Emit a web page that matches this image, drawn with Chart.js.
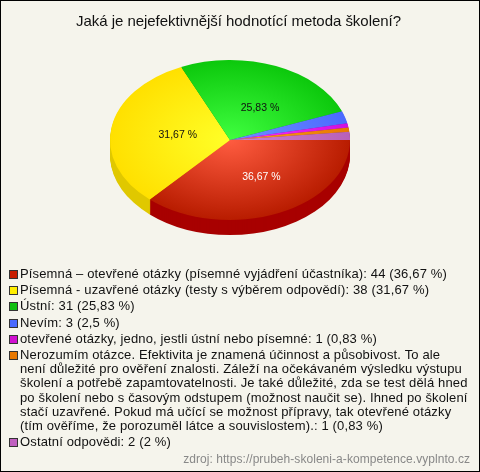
<!DOCTYPE html>
<html>
<head>
<meta charset="utf-8">
<script src="https://cdn.jsdelivr.net/npm/chart.js@4"></script>
<style>
  html, body { margin: 0; padding: 0; background: #f5f4ec; }
  #box { position: relative; width: 478px; height: 470px; border: 1px solid #000; background: #f5f4ec; overflow: hidden; font-family: "Liberation Sans", Arial, sans-serif; color: #111; }
  #myChart { position: absolute; left: -1px; top: -1px; }
  #titulek { position: absolute; left: 0; top: 11px; width: 475px; text-align: center; font-size: 15px; line-height: 17px; letter-spacing: -.04px; }
  #legenda { position: absolute; left: 19px; top: 266.3px; width: 452px; font-size: 13px; line-height: 14.3px; letter-spacing: .145px; }
  #legenda div { position: relative; margin-bottom: 1.8px; }
  #legenda i { position: absolute; left: -11px; top: 3px; width: 7px; height: 7px; border: 1px solid #333; }
  #zdroj { position: absolute; right: 9px; top: 451px; font-size: 12px; line-height: 14px; letter-spacing: .05px; color: #888; }
</style>
</head>
<body>
<div id="box">
  <canvas id="myChart" width="480" height="472"></canvas>
  <div id="titulek"></div>
  <div id="legenda"></div>
  <div id="zdroj"></div>
</div>
<script>
const titulek = 'Jaká je nejefektivnější hodnotící metoda školení?';
const zdroj = 'zdroj: https://prubeh-skoleni-a-kompetence.vyplnto.cz';
// nbsp after "není" keeps the line break where the original has it
const kategorie = [
  'Písemná – otevřené otázky (písemné vyjádření účastníka)',
  'Písemná - uzavřené otázky (testy s výběrem odpovědí)',
  'Ústní',
  'Nevím',
  'otevřené otázky, jedno, jestli ústní nebo písemné',
  'Nerozumím otázce. Efektivita je znamená účinnost a působivost. To ale není\u00a0důležité pro ověření znalosti. Záleží na očekávaném výsledku výstupu školení a potřebě zapamtovatelnosti. Je také důležité, zda se test dělá hned po školení nebo s časovým odstupem (možnost naučit se). Ihned po školení stačí uzavřené. Pokud má učící se možnost přípravy, tak otevřené otázky (tím ověříme, že porozuměl látce a souvislostem).',
  'Ostatní odpovědi'
];
const hodnoty = [44, 38, 31, 3, 1, 1, 2];
const procenta = ['36,67', '31,67', '25,83', '2,5', '0,83', '0,83', '2'];
const stitky = ['36,67 %', '31,67 %', '25,83 %', '', '', '', ''];
const barvyStitku = ['#fff', '#111', '#111'];
const barvyLegenda = ['#c81e00', '#ffee00', '#10c010', '#4a6aff', '#d010d0', '#e87800', '#c060c0'];
const barvyStred = ['#ff5c40', '#ffff28', '#40ff40', '#7090ff', '#ff30ff', '#ffa020', '#d080d0'];
const barvyOkraj = ['#b81c00', '#ffe000', '#0cc80c', '#4a6aff', '#d010e0', '#e87800', '#b860b8'];
const barvyBok = ['#a80000', '#e0c800', '#089008', '#3048b0', '#900890', '#a05000', '#804080'];

const hloubka = 15;
const zplosteni = 2 / 3;

document.getElementById('titulek').textContent = titulek;
document.getElementById('zdroj').textContent = zdroj;
document.getElementById('legenda').innerHTML = kategorie.map((k, i) =>
  `<div><i style="background:${barvyLegenda[i]}"></i>${k}: ${hodnoty[i]} (${procenta[i]} %)</div>`
).join('');

// chart.js draws only round pies, so squash it and put the side wall under it
const nahled3d = {
  id: 'nahled3d',
  beforeDatasetDraw(chart) {
    const ctx = chart.ctx;
    const arcs = chart.getDatasetMeta(0).data;
    const cx = arcs[0].x, cy = arcs[0].y;
    for (let d = hloubka; d >= 1; d--) {
      ctx.save();
      ctx.translate(cx, cy + d);
      ctx.scale(1, zplosteni);
      arcs.forEach((a, i) => {
        ctx.beginPath();
        ctx.moveTo(0, 0);
        ctx.arc(0, 0, a.outerRadius, a.startAngle, a.endAngle);
        ctx.closePath();
        ctx.fillStyle = barvyBok[i];
        ctx.fill();
      });
      ctx.restore();
    }
    ctx.save();
    ctx.translate(cx, cy);
    ctx.scale(1, zplosteni);
    ctx.translate(-cx, -cy);
  },
  afterDatasetDraw(chart) {
    const ctx = chart.ctx;
    ctx.restore();
    const arcs = chart.getDatasetMeta(0).data;
    ctx.save();
    ctx.font = '10.5px "Liberation Sans", Arial, sans-serif';
    ctx.textAlign = 'center';
    ctx.textBaseline = 'middle';
    arcs.forEach((a, i) => {
      if (!stitky[i]) return;
      const stred = (a.startAngle + a.endAngle) / 2;
      const x = a.x + a.outerRadius * 0.5 * Math.cos(stred) + 7;
      // the green label sits a bit lower than the middle of its slice
      const y = a.y + a.outerRadius * 0.5 * Math.sin(stred) * zplosteni + (i === 2 ? 5 : 1);
      ctx.fillStyle = barvyStitku[i];
      ctx.fillText(stitky[i], x, y);
    });
    ctx.restore();
  }
};

const myChart = new Chart(document.getElementById('myChart'), {
  type: 'pie',
  data: {
    labels: kategorie,
    datasets: [{
      data: hodnoty,
      borderWidth: 0,
      backgroundColor(c) {
        const area = c.chart.chartArea;
        if (!area) return barvyLegenda[c.dataIndex];
        const cx = (area.left + area.right) / 2, cy = (area.top + area.bottom) / 2;
        const g = c.chart.ctx.createRadialGradient(cx, cy, 0, cx, cy, (area.right - area.left) / 2);
        g.addColorStop(0, barvyStred[c.dataIndex]);
        g.addColorStop(1, barvyOkraj[c.dataIndex]);
        return g;
      }
    }]
  },
  options: {
    responsive: false,
    animation: false,
    rotation: 90,
    layout: { padding: { left: 110, right: 130, top: 20, bottom: 212 } },
    plugins: {
      legend: { display: false },
      title: { display: false },
      tooltip: { enabled: false }
    }
  },
  plugins: [nahled3d]
});
</script>
</body>
</html>
